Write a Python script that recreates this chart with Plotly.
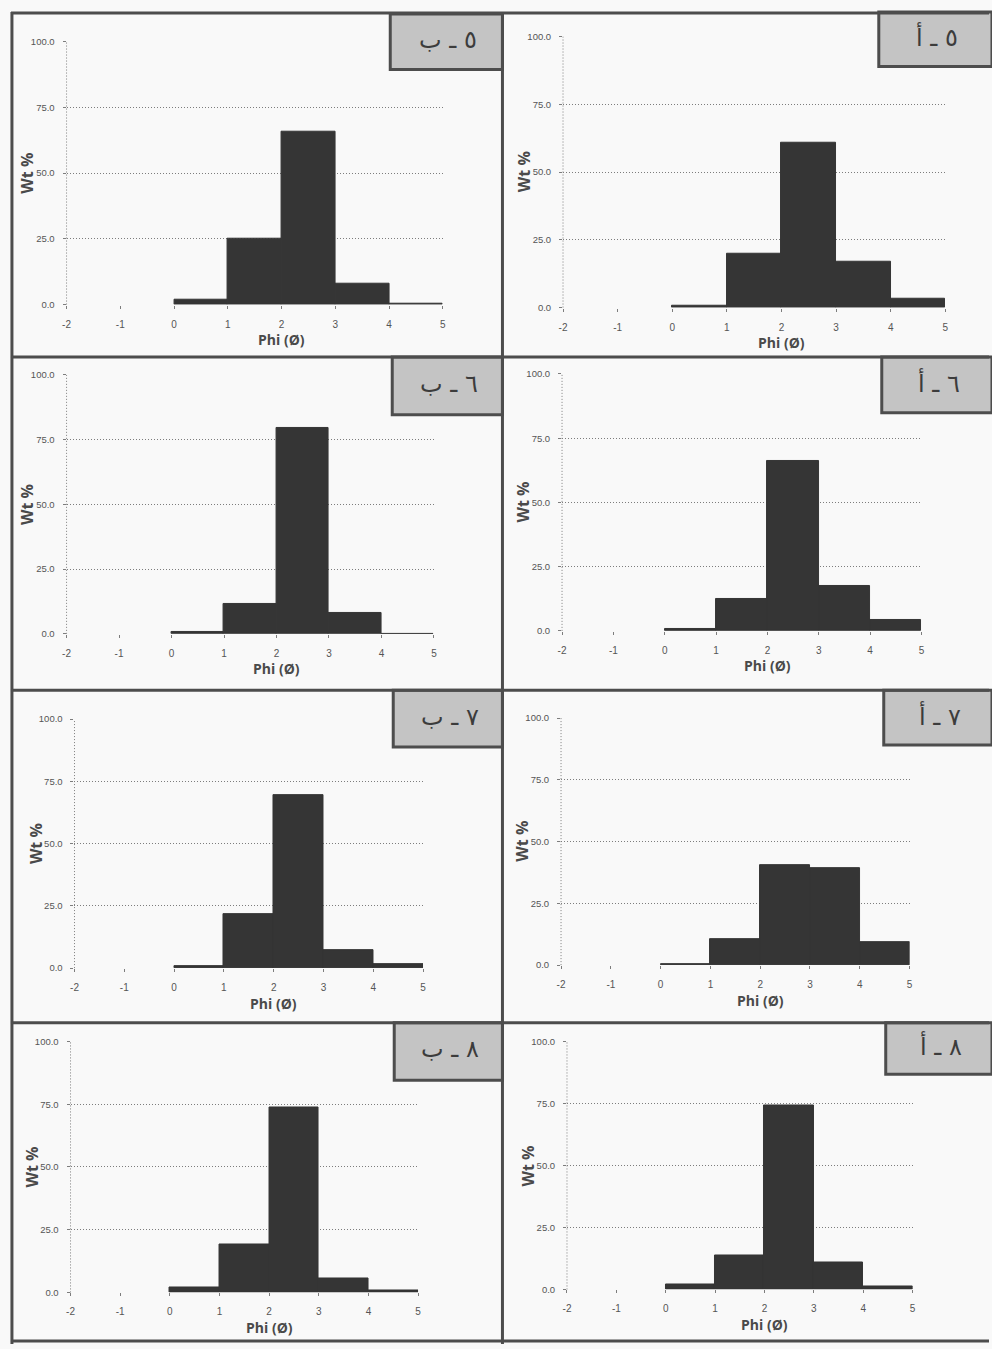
import plotly.graph_objects as go

# ---------------- data ----------------
bin_centers = [0.5, 1.5, 2.5, 3.5, 4.5]          # phi classes 0-1, 1-2, 2-3, 3-4, 4-5
x_ticks = [-2, -1, 0, 1, 2, 3, 4, 5]
y_ticks = [0, 25, 50, 75, 100]

labels = ["٥ ـ ب", "٥ ـ أ", "٦ ـ ب", "٦ ـ أ", "٧ ـ ب", "٧ ـ أ", "٨ ـ ب", "٨ ـ أ"]

v5b = [1.7, 25.2, 65.8, 8.1, 0.5]
v5a = [0.6, 20.0, 61.0, 16.9, 3.4]
v6b = [0.8, 11.4, 79.5, 8.0, 0.0]
v6a = [0.6, 12.5, 66.2, 17.5, 4.3]
v7b = [0.8, 21.6, 69.6, 7.2, 1.4]
v7a = [0.5, 10.6, 40.6, 39.3, 9.2]
v8b = [2.1, 19.3, 73.8, 5.5, 0.9]
v8a = [1.9, 13.5, 74.1, 10.8, 1.3]
series = [v5b, v5a, v6b, v6a, v7b, v7a, v8b, v8a]

# ---------------- layout geometry (pixels) ----------------
W, H = 992, 1349
plot_px = [  # x0, x1, ytop, ybot
    (63, 442, 36, 301),
    (563, 948, 31, 304),
    (63, 433, 372, 633),
    (562, 924, 371, 630),
    (71, 422, 719, 970),
    (561, 912, 718, 967),
    (67, 417, 1044, 1297),
    (567, 915, 1044, 1294),
]
label_px = [  # x0, x1, y0, y1
    (389, 502, 8, 64),
    (881, 995, 6, 61),
    (391, 502, 354, 412),
    (884, 995, 354, 410),
    (392, 502, 690, 747),
    (886, 995, 690, 745),
    (393, 502, 1025, 1083),
    (888, 995, 1025, 1077),
]

def px_x(p):
    return p / W

def px_y(p):
    return 1 - p / H

fig = go.Figure()
TICKC = "#555555"
GRIDC = "#7d7d7d"
BAR = "#353535"
BORDER = "#4d4d4d"

for i, vals in enumerate(series):
    n = "" if i == 0 else str(i + 1)
    x0, x1, yt, yb = plot_px[i]
    fig.add_trace(go.Bar(
        x=bin_centers, y=vals, width=1.0,
        marker=dict(color=BAR, line=dict(color=BAR, width=1)),
        xaxis="x" + n, yaxis="y" + n, showlegend=False,
    ))
    fig.layout["xaxis" + n] = dict(
        domain=[px_x(x0), px_x(x1)], anchor="y" + n, range=[-2, 5],
        tickvals=x_ticks, ticktext=[str(t) for t in x_ticks],
        showgrid=False, zeroline=False, showline=False,
        ticks="outside", ticklen=3, tickcolor=GRIDC, ticklabelstandoff=7,
        tickfont=dict(family="Liberation Sans", size=10, color=TICKC),
    )
    fig.layout["yaxis" + n] = dict(
        domain=[px_y(yb), px_y(yt)], anchor="x" + n, range=[0, 100],
        tickvals=y_ticks, ticktext=[f"{t:.1f}" for t in y_ticks],
        showgrid=True, gridcolor=GRIDC, griddash="1px,2px", gridwidth=1,
        zeroline=False, showline=False,
        ticks="outside", ticklen=3, tickcolor=GRIDC, ticklabelstandoff=6,
        tickfont=dict(family="Liberation Sans", size=9.5, color=TICKC),
    )
    xr = "x" + n
    yr = "y" + n
    # dotted vertical axis line at phi = -2
    fig.add_shape(type="line", xref=xr + " domain", yref=yr + " domain",
                  x0=0, x1=0, y0=0, y1=1,
                  line=dict(color=GRIDC, width=1, dash="1px,2px"))
    # axis titles
    fig.add_annotation(text="<b>Phi (Ø)</b>", xref=xr, yref=yr + " domain",
                       x=2, y=0, yshift=-35, xanchor="center", yanchor="middle",
                       showarrow=False,
                       font=dict(family="Open Sans", size=14, color="#4a4a4a"))
    fig.add_annotation(text="<b>Wt %</b>", xref=xr + " domain", yref=yr + " domain",
                       x=0, y=0.5, xshift=-39, xanchor="center", yanchor="middle",
                       textangle=-90, showarrow=False,
                       font=dict(family="Open Sans", size=16, color="#4a4a4a"))
    # label box
    lx0, lx1, ly0, ly1 = label_px[i]
    fig.add_shape(type="rect", xref="paper", yref="paper",
                  x0=px_x(lx0), x1=px_x(lx1), y0=px_y(ly1), y1=px_y(ly0),
                  fillcolor="#c4c4c4", line=dict(color=BORDER, width=3), layer="above")
    fig.add_annotation(text=labels[i], xref="paper", yref="paper",
                       x=px_x((lx0 + lx1) / 2 + 2), y=px_y((ly0 + ly1) / 2 - 2),
                       xanchor="center", yanchor="middle", showarrow=False,
                       font=dict(family="DejaVu Sans", size=24, color="#3c3c3c"))

# panel borders
for xv in [8, 502]:
    fig.add_shape(type="line", xref="paper", yref="paper",
                  x0=px_x(xv), x1=px_x(xv), y0=0, y1=px_y(6),
                  line=dict(color=BORDER, width=3))
for yv in [7, 354, 690, 1025, 1346]:
    fig.add_shape(type="line", xref="paper", yref="paper",
                  x0=px_x(7), x1=1, y0=px_y(yv), y1=px_y(yv),
                  line=dict(color=BORDER, width=3))

fig.update_layout(
    width=W, height=H, margin=dict(l=0, r=0, t=0, b=0),
    paper_bgcolor="#f9f9f9", plot_bgcolor="rgba(0,0,0,0)",
    bargap=0,
)

fig.write_html(
    "out.html",
    config={"displayModeBar": False},
    post_script="document.body.style.margin='0';document.body.style.padding='0';"
                "document.documentElement.style.overflow='hidden';",
)
